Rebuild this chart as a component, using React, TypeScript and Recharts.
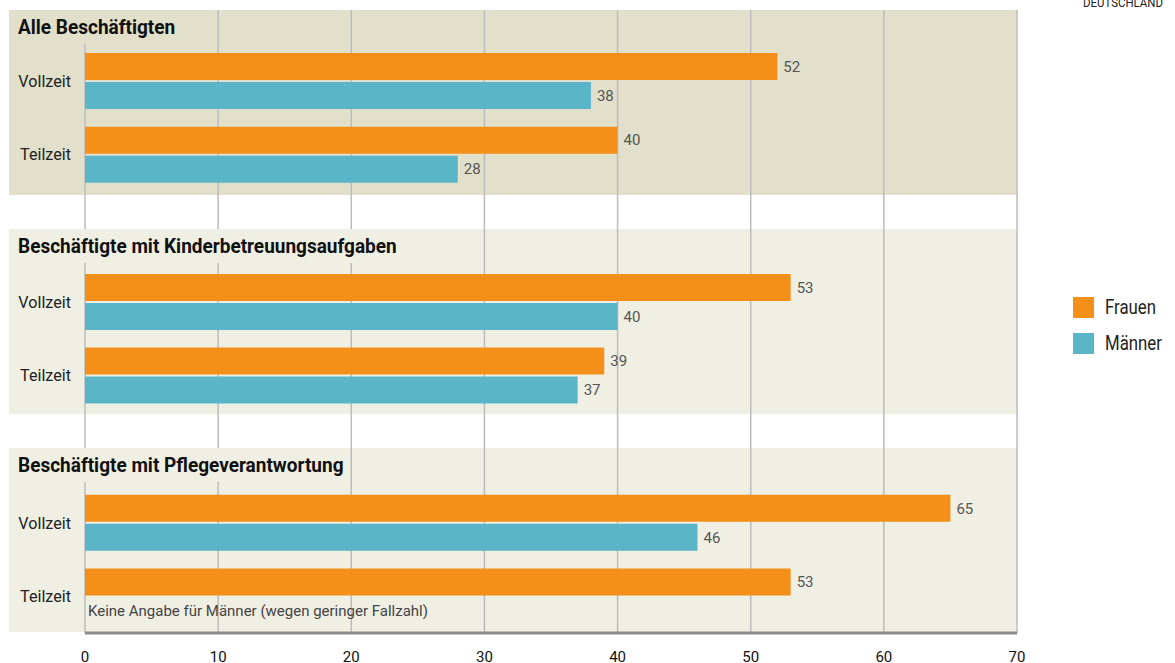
import React from 'react';
import { BarChart, Bar, XAxis, YAxis, CartesianGrid, Legend, LabelList } from 'recharts';

// rows: each panel has Vollzeit / Teilzeit, empty rows separate the panels
const rowIds = ['v1', 't1', 'g2', 'v2', 't2', 'g3', 'v3', 't3'];
const rowLabels = ['Vollzeit', 'Teilzeit', '', 'Vollzeit', 'Teilzeit', '', 'Vollzeit', 'Teilzeit'];
const frauen = [52, 40, null, 53, 39, null, 65, 53];
const maenner = [38, 28, null, 40, 37, null, 46, null];
const xTicks = [0, 10, 20, 30, 40, 50, 60, 70];

const panelTitles = [
  'Alle Beschäftigten',
  'Beschäftigte mit Kinderbetreuungsaufgaben',
  'Beschäftigte mit Pflegeverantwortung',
];
const noteText = 'Keine Angabe für Männer (wegen geringer Fallzahl)';

const data = rowIds.map((id, i) => ({ id, label: rowLabels[i], frauen: frauen[i], maenner: maenner[i] }));

const ORANGE = '#f4901a';
const BLUE = '#5bb5c9';
const SANS = 'Roboto, "Liberation Sans", Arial, sans-serif';

// panel backgrounds (page pixels)
const panels = [
  { top: 10, bottom: 195, bg: '#e2dfca' },
  { top: 229, bottom: 414, bg: '#f0efe4' },
  { top: 448, bottom: 632, bg: '#f0efe4' },
];

// narrow text: no condensed font installed, so squeeze horizontally
const RowTick = (props: any) => {
  const { x, y, payload } = props;
  const label = rowLabels[rowIds.indexOf(payload.value)];
  return (
    <g transform={`translate(${x},${y}) scale(0.95,1)`}>
      <text x={0} y={0} dy="0.35em" textAnchor="end" fill="#222" fontSize={17} fontFamily={SANS}>
        {label}
      </text>
    </g>
  );
};

const LegendContent = (props: any) => (
  <ul style={{ listStyle: 'none', margin: 0, padding: 0 }}>
    {props.payload.map((p: any) => (
      <li key={p.value} style={{ display: 'flex', alignItems: 'center', height: 36 }}>
        <span style={{ width: 21, height: 21, background: p.color, display: 'inline-block', marginRight: 11, flex: 'none' }} />
        <span
          style={{
            fontFamily: SANS,
            fontSize: 20,
            color: '#222',
            display: 'inline-block',
            transform: 'scaleX(0.84)',
            transformOrigin: 'left center',
            whiteSpace: 'nowrap',
          }}
        >
          {p.value}
        </span>
      </li>
    ))}
  </ul>
);

export default function App() {
  return (
    <div style={{ position: 'absolute', left: 0, top: 0, width: 1175, height: 663, overflow: 'hidden', background: '#fff' }}>
      {panels.map((p, i) => (
        <div key={i} style={{ position: 'absolute', left: 9, top: p.top, width: 1008, height: p.bottom - p.top, background: p.bg }} />
      ))}
      <div style={{ position: 'absolute', left: 0, top: 0 }}>
        <BarChart
          width={1175}
          height={663}
          data={data}
          layout="vertical"
          margin={{ top: 10, right: 158, bottom: 0, left: 0 }}
          barCategoryGap={9}
          barGap={2}
        >
          <CartesianGrid horizontal={false} stroke="#bcbcbc" strokeWidth={1.5} />
          <XAxis
            type="number"
            domain={[0, 70]}
            ticks={xTicks}
            height={30}
            axisLine={{ stroke: '#8c8c8c', strokeWidth: 3 }}
            tickLine={false}
            tickSize={0}
            tickMargin={18}
            tick={{ fill: '#111', fontSize: 15, fontFamily: SANS }}
          />
          <YAxis
            type="category"
            dataKey="id"
            width={85}
            padding={{ top: 34, bottom: 0 }}
            axisLine={false}
            tickLine={false}
            tickSize={0}
            tickMargin={14}
            tick={<RowTick />}
          />
          <Legend
            layout="vertical"
            align="center"
            verticalAlign="middle"
            wrapperStyle={{ left: 1073, top: 289, width: 100 }}
            content={<LegendContent />}
          />
          <Bar dataKey="frauen" name="Frauen" fill={ORANGE} isAnimationActive={false}>
            <LabelList dataKey="frauen" position="right" offset={6} fill="#555" fontSize={15} fontFamily={SANS} />
          </Bar>
          <Bar dataKey="maenner" name="Männer" fill={BLUE} isAnimationActive={false}>
            <LabelList dataKey="maenner" position="right" offset={6} fill="#555" fontSize={15} fontFamily={SANS} />
          </Bar>
        </BarChart>
      </div>
      {panelTitles.map((t, i) => (
        <div
          key={t}
          style={{
            position: 'absolute',
            left: 9,
            top: panels[i].top,
            height: 34,
            lineHeight: '34px',
            padding: '0 4px 0 9.5px',
            background: panels[i].bg,
            fontFamily: SANS,
            fontWeight: 'bold',
            fontSize: 20,
            color: '#111',
            whiteSpace: 'nowrap',
            transform: 'scaleX(0.95)',
            transformOrigin: 'left center',
          }}
        >
          {t}
        </div>
      ))}
      <div style={{ position: 'absolute', left: 88, top: 602, fontFamily: SANS, fontSize: 15, color: '#444', whiteSpace: 'nowrap' }}>
        {noteText}
      </div>
      <div
        style={{
          position: 'absolute',
          left: 1083,
          top: -4,
          lineHeight: '13px',
          fontFamily: SANS,
          fontSize: 13,
          color: '#222',
          whiteSpace: 'nowrap',
          transform: 'scaleX(0.88)',
          transformOrigin: 'left center',
        }}
      >
        DEUTSCHLAND
      </div>
    </div>
  );
}
